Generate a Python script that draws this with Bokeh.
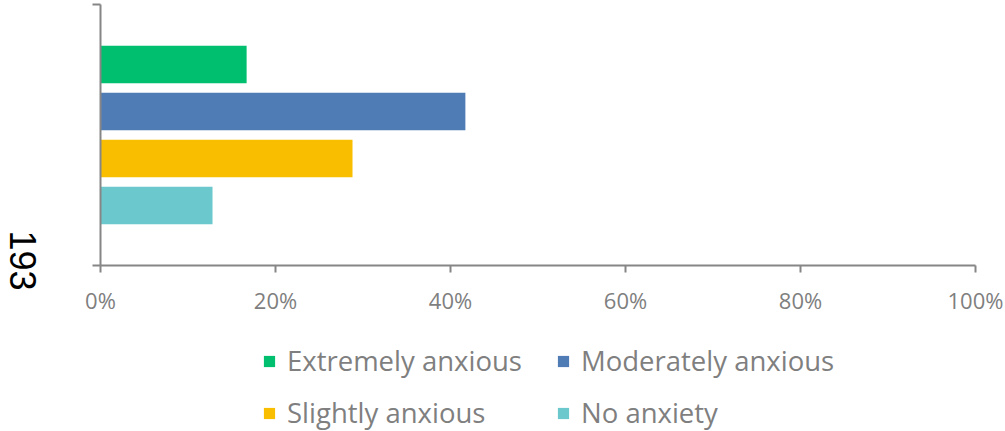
import math
from bokeh.plotting import figure
from bokeh.layouts import column, row
from bokeh.models import (Range1d, FixedTicker, NumeralTickFormatter, Legend,
                          LegendItem, Label, ColumnDataSource)
from bokeh.embed import file_html
from bokeh.resources import INLINE

# ---- data ----
category = "193"
series = ["Extremely anxious", "Moderately anxious", "Slightly anxious", "No anxiety"]
values = [0.167, 0.417, 0.288, 0.128]
colors = ["#00BF6F", "#507CB6", "#F9BE00", "#6BC8CD"]
x_ticks = [0, 0.2, 0.4, 0.6, 0.8, 1.0]

# series slots inside the single category band [0, 1] (top to bottom)
n = len(series)
pitch = 0.18
bar_h = 0.144
centers = [0.5 + pitch * ((n - 1) / 2 - i) for i in range(n)]

AXIS_GRAY = "#868686"
TEXT_GRAY = "#7f7f7f"
FONT = "Open Sans"
W = 1005
H = 431
WL = 60            # width of the category-label strip
H1 = 330
H2 = H - H1

# ---- category label strip (full height) ----
pL = figure(width=WL, height=H, x_range=Range1d(0, 1), y_range=Range1d(0, 1),
            output_backend="svg", toolbar_location=None,
            x_axis_location=None, y_axis_location=None,
            min_border_left=0, min_border_right=0, min_border_top=0,
            min_border_bottom=0)
pL.outline_line_color = None
pL.xgrid.visible = False
pL.ygrid.visible = False
pL.add_layout(Label(x=22, y=H - 260, x_units="screen", y_units="screen",
                    text=category, angle=-math.pi / 2, text_align="center",
                    text_baseline="middle", text_font="Liberation Sans",
                    text_font_size="36px", text_color="black"))

# ---- main chart ----
p = figure(width=W - WL, height=H1, x_range=Range1d(0, 1), y_range=Range1d(0, 1),
           output_backend="svg", toolbar_location=None,
           min_border_left=100 - WL, min_border_right=30, min_border_top=4,
           min_border_bottom=H1 - 265)
p.outline_line_color = None
p.xgrid.visible = False
p.ygrid.visible = False

for s, v, c, yc in zip(series, values, colors, centers):
    src = ColumnDataSource(dict(y=[yc], right=[v]))
    p.hbar(y="y", left=0, right="right", height=bar_h, source=src,
           fill_color=c, line_color=None)

xa = p.xaxis[0]
xa.ticker = FixedTicker(ticks=x_ticks)
xa.formatter = NumeralTickFormatter(format="0%")
xa.major_tick_out = 7
xa.major_tick_in = 0
xa.minor_tick_out = 0
xa.minor_tick_in = 0
xa.axis_line_color = AXIS_GRAY
xa.axis_line_width = 2
xa.major_tick_line_color = AXIS_GRAY
xa.major_tick_line_width = 2
xa.major_label_text_font = FONT
xa.major_label_text_font_size = "22px"
xa.major_label_text_color = TEXT_GRAY
xa.major_label_standoff = 12

ya = p.yaxis[0]
ya.ticker = FixedTicker(ticks=[0, 1])
ya.major_label_overrides = {0: "", 1: ""}
ya.major_label_standoff = 0
ya.major_tick_out = 8
ya.major_tick_in = 0
ya.minor_tick_out = 0
ya.minor_tick_in = 0
ya.axis_line_color = AXIS_GRAY
ya.axis_line_width = 2
ya.major_tick_line_color = AXIS_GRAY
ya.major_tick_line_width = 2

# ---- legend strip ----
p2 = figure(width=W - WL, height=H2, x_range=Range1d(0, 1), y_range=Range1d(0, 1),
            output_backend="svg", toolbar_location=None,
            x_axis_location=None, y_axis_location=None,
            min_border_left=100 - WL, min_border_right=30, min_border_top=0,
            min_border_bottom=0)
p2.outline_line_color = None
p2.xgrid.visible = False
p2.ygrid.visible = False
legend_renderers = []
for i, (v, c) in enumerate(zip(values, colors)):
    # legend swatches; the bars themselves sit outside this strip's visible range
    src = ColumnDataSource(dict(y=[-10 - i], right=[v]))
    legend_renderers.append(p2.hbar(y="y", left=0, right="right", height=0.5,
                                    source=src, fill_color=c, line_color=None))

legend = Legend(items=[LegendItem(label=s, renderers=[r])
                       for s, r in zip(series, legend_renderers)],
                location=(162, 0), orientation="horizontal", ncols=2,
                glyph_width=14, glyph_height=14, label_standoff=11, spacing=15,
                label_width=254, padding=0, margin=0,
                border_line_color=None, background_fill_alpha=0,
                label_text_font=FONT, label_text_font_size="27.5px",
                label_text_color=TEXT_GRAY)
p2.add_layout(legend, "center")

layout = row(pL, column(p, p2, spacing=0), spacing=0)
open("out.html", "w").write(file_html(layout, INLINE))
